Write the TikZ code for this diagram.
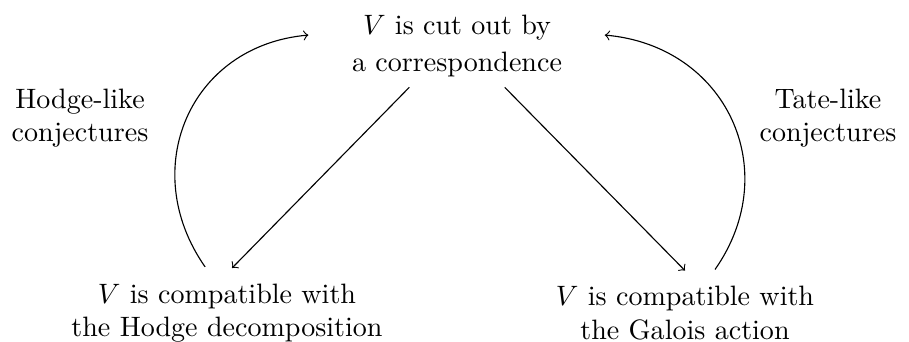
\documentclass[tikz,border=0pt]{standalone}
\usetikzlibrary{positioning}

\begin{document}
\begin{tikzpicture}[
    x=0.01252cm, y=-0.01252cm,
    every node/.style={align=center},
    arr/.style ={->},
    curvearr/.style ={->, looseness=1.2}
  ]
  \useasboundingbox (0,0) rectangle (909,341);
  \node (cut)    at (457,46)  {$V$ is cut out by\\[1.5pt]a correspondence};
  \node (hodge)  at (227,313) {$V$ is compatible with\\the Hodge decomposition};
  \node (galois) at (685,313) {$V$ is compatible with\\the Galois action};
  \node (hl)     at (80,118)  {Hodge-like\\conjectures};
  \node (tl)     at (828,118) {Tate-like\\conjectures};
  \draw[arr] ([xshift=-17pt]cut.south) -- ([xshift=1.8pt,yshift=2pt]hodge.north);
  \draw[arr] ([xshift=17pt]cut.south)  -- ([yshift=2pt]galois.north);
  \draw[curvearr] ([shift={(-7.8pt,2.4pt)}]hodge.north)
      to[out=125, in=185] ([shift={(-12pt,3.9pt)}]cut.west);
  \draw[curvearr] ([shift={(10.7pt,2.4pt)}]galois.north)
      to[out=55, in=-5] ([shift={(11.7pt,3.9pt)}]cut.east);
\end{tikzpicture}
\end{document}
